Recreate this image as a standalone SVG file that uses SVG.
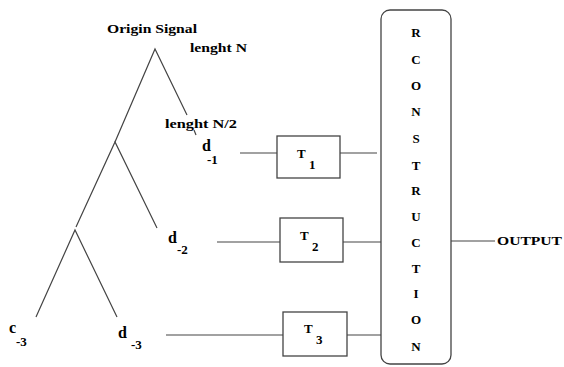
<svg xmlns="http://www.w3.org/2000/svg" width="564" height="367" viewBox="0 0 564 367">
  <style>
    .ln { stroke: #444; stroke-width: 1.2; fill: none; }
    .box { stroke: #444; stroke-width: 1.3; fill: #fff; }
    .lbl { font-family: "Liberation Serif", "DejaVu Serif", serif; font-weight: bold; fill: #000; }
    .big { font-size: 16px; }
    .sub { font-size: 13px; }
    .sm { font-size: 12px; }
    .t { font-size: 13px; }
    .rc { font-family: "Liberation Serif", "DejaVu Serif", serif; font-weight: bold; font-size: 13px; text-anchor: middle; fill: #000; }
  </style>
  <rect width="564" height="367" fill="#fff"/>

  <!-- decomposition tree -->
  <g id="tree" class="ln">
    <polyline points="115,142 155,49 187,115"/>
    <line x1="194" y1="130" x2="196" y2="135"/>
    <polyline points="76,227 115,142 157,228"/>
    <polyline points="36,317 75,230 117,317"/>
  </g>

  <g id="labels">
    <text class="lbl sm" x="107" y="33" textLength="90" lengthAdjust="spacingAndGlyphs">Origin Signal</text>
    <text class="lbl sm" x="190" y="52" textLength="57" lengthAdjust="spacingAndGlyphs">lenght N</text>
    <text class="lbl sm" x="165" y="128" textLength="72" lengthAdjust="spacingAndGlyphs">lenght N/2</text>
  </g>

  <g id="d1"><text class="lbl big" x="202" y="151">d</text><text class="lbl sub" x="207" y="164">-1</text></g>
  <g id="d2"><text class="lbl big" x="168" y="243">d</text><text class="lbl sub" x="177" y="254">-2</text></g>
  <g id="c3"><text class="lbl big" x="9" y="333">c</text><text class="lbl sub" x="16" y="346">-3</text></g>
  <g id="d3"><text class="lbl big" x="118" y="338">d</text><text class="lbl sub" x="131" y="349">-3</text></g>

  <!-- connectors -->
  <g id="connectors" class="ln">
    <line x1="240" y1="153" x2="277" y2="153"/>
    <line x1="340" y1="153" x2="377" y2="153"/>
    <line x1="217" y1="242" x2="280" y2="242"/>
    <line x1="343" y1="242" x2="381" y2="242"/>
    <line x1="166" y1="335" x2="283" y2="335"/>
    <line x1="347" y1="335" x2="381" y2="335"/>
    <line x1="451" y1="241" x2="495" y2="241"/>
  </g>

  <g id="T1">
    <rect class="box" x="277" y="136" width="63" height="42"/>
    <text class="lbl t" x="297" y="158">T</text><text class="lbl t" x="309" y="169">1</text>
  </g>
  <g id="T2">
    <rect class="box" x="280" y="218" width="63" height="44"/>
    <text class="lbl t" x="300" y="240">T</text><text class="lbl t" x="312" y="251">2</text>
  </g>
  <g id="T3">
    <rect class="box" x="283" y="312" width="64" height="44"/>
    <text class="lbl t" x="304" y="333">T</text><text class="lbl t" x="316" y="344">3</text>
  </g>

  <g id="reconstruction">
    <rect class="box" x="381" y="10" width="70" height="354" rx="9" ry="9"/>
    <text class="rc" x="416" y="37">R</text>
    <text class="rc" x="416" y="64">C</text>
    <text class="rc" x="416" y="90">O</text>
    <text class="rc" x="416" y="116">N</text>
    <text class="rc" x="416" y="143">S</text>
    <text class="rc" x="416" y="170">T</text>
    <text class="rc" x="416" y="195">R</text>
    <text class="rc" x="416" y="221">U</text>
    <text class="rc" x="416" y="247">C</text>
    <text class="rc" x="416" y="273">T</text>
    <text class="rc" x="416" y="298">I</text>
    <text class="rc" x="416" y="324">O</text>
    <text class="rc" x="416" y="351">N</text>
  </g>

  <g id="output">
    <text x="497" y="245" font-family="Liberation Serif, DejaVu Serif, serif" font-size="13" font-weight="600" textLength="65" lengthAdjust="spacingAndGlyphs" fill="#000">OUTPUT</text>
  </g>
</svg>
